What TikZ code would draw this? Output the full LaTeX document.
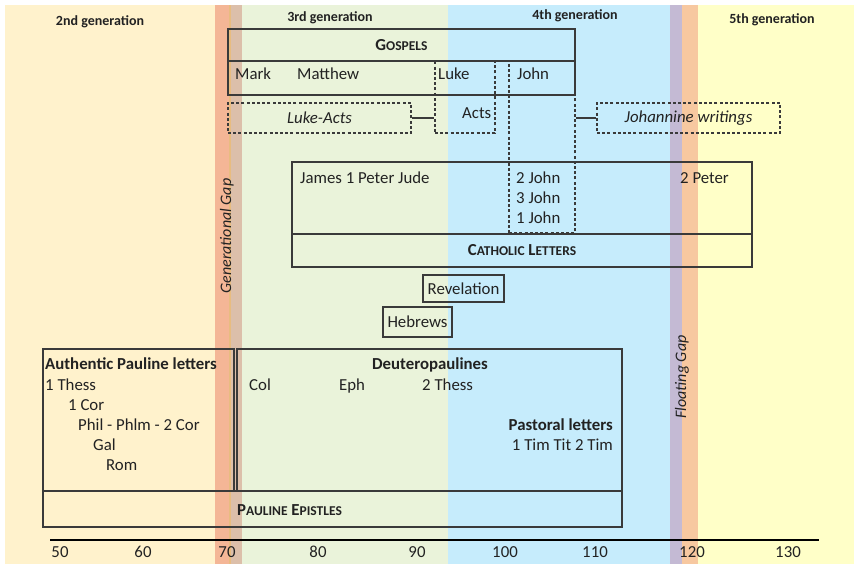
\documentclass[tikz,border=0pt]{standalone}
\usepackage{fontspec}
\setmainfont{Carlito}
\definecolor{txt}{HTML}{222222}
\definecolor{boxc}{HTML}{3A3A3A}
\definecolor{bgY}{HTML}{FFF2CC}
\definecolor{bgG}{HTML}{EAF3DA}
\definecolor{bgB}{HTML}{C6ECFC}
\definecolor{bgYb}{HTML}{FFFFC8}
\definecolor{gapA}{HTML}{F4B696}
\definecolor{gapL}{HTML}{E8BC80}
\definecolor{gapB}{HTML}{DCBFAA}
\definecolor{gapC}{HTML}{C4BAD4}
\definecolor{gapD}{HTML}{F7C8A0}
\newcommand{\fsc}[2]{#1{\fontsize{13.5}{14}\selectfont #2}}
\begin{document}
\begin{tikzpicture}[x=1pt,y=-1pt,
  every node/.style={text=txt, font=\fontsize{16.8}{19}\selectfont, inner sep=0pt},
  box/.style={draw=boxc, line width=1.1pt, inner sep=0pt},
  dbox/.style={box, dash pattern=on 3pt off 2.2pt},
  conn/.style={draw=boxc, line width=1.1pt},
  tw/.style={anchor=west, text height=11.5pt, text depth=3.3pt},
  te/.style={anchor=east, text height=11.5pt, text depth=3.3pt},
  tc/.style={text height=11.5pt, text depth=3.3pt},
  bf/.style={font=\bfseries\fontsize{16.8}{19}\selectfont},
  it/.style={font=\itshape\fontsize{16.8}{19}\selectfont},
  gen/.style={font=\bfseries\fontsize{14}{16}\selectfont, text height=10pt, text depth=2.8pt},
  ax/.style={text height=11.5pt, text depth=3.3pt}]
\useasboundingbox (0,0) rectangle (854,564);
% backgrounds
\fill[bgY] (5,5) rectangle (230,564);
\fill[bgG] (230,5) rectangle (448,564);
\fill[bgB] (448,5) rectangle (682,564);
\fill[bgYb] (682,5) rectangle (854,564);
% gaps
\fill[gapA] (215,5) rectangle (228.5,564);
\fill[gapL] (228.5,5) rectangle (230.5,564);
\fill[gapB] (230.5,5) rectangle (242,564);
\fill[gapC] (670,5) rectangle (682,564);
\fill[gapD] (682,5) rectangle (698,564);
% generation labels
\node[gen] (g2) at (100,22) {2nd generation};
\node[gen] (g3) at (330,18) {3rd generation};
\node[gen] (g4) at (575,16) {4th generation};
\node[gen] (g5) at (772,20) {5th generation};
% gospels
\node[box, bf, minimum width=347pt, minimum height=32pt] (goshead) at (401.5,45) {\fsc{G}{OSPELS}};
\node[box, minimum width=347pt, minimum height=34pt] (gosrow) at (401.5,78) {};
\node[dbox, minimum width=60pt, minimum height=72pt] (luke) at (465,97) {};
\node[dbox, minimum width=66pt, minimum height=172pt] (john) at (542,147) {};
\node[dbox, it, minimum width=183pt, minimum height=30pt] (lukeacts) at (319.5,118) {Luke-Acts};
\node[dbox, it, minimum width=183pt, minimum height=30pt] (johannine) at (688.5,118) {Johannine writings};
\draw[conn] (lukeacts.east) -- (lukeacts.east -| luke.west);
\draw[conn] (john.east |- johannine.west) -- (johannine.west);
\node[tw] (mark) at (235,75) {Mark};
\node[tw] (matthew) at (297,75) {Matthew};
\node[tw] (luket) at (438,75) {Luke};
\node[tw] (johnt) at (517,75) {John};
\node[tw] (acts) at (462,114) {Acts};
% catholic letters
\node[box, minimum width=460pt, minimum height=72pt] (cattop) at (522,198) {};
\node[box, bf, minimum width=460pt, minimum height=33pt] (catbot) at (522,250.5) {\fsc{C}{ATHOLIC} \fsc{L}{ETTERS}};
\node[tw] (jpj) at (300,179) {James 1 Peter Jude};
\node[tw] (j2) at (516,179) {2 John};
\node[tw] (j3) at (516,199.5) {3 John};
\node[tw] (j1) at (516,219) {1 John};
\node[tw] (p2) at (680,179) {2 Peter};
% revelation, hebrews
\node[box, minimum width=81pt, minimum height=27pt] (rev) at (463.5,288.5) {Revelation};
\node[box, minimum width=69pt, minimum height=30pt] (heb) at (417.5,322) {Hebrews};
% pauline
\node[box, minimum width=191pt, minimum height=142pt] (auth) at (138.5,420) {};
\node[box, minimum width=385pt, minimum height=142pt] (deut) at (429.5,420) {};
\node[box, minimum width=579pt, minimum height=36pt] (paul) at (332.5,509) {};
\node[tw, bf] (autht) at (45,365) {Authentic Pauline letters};
\node[tw] (th1) at (45,386) {1 Thess};
\node[tw] (cor1) at (68,406) {1 Cor};
\node[tw] (phil) at (78,426) {Phil - Phlm - 2 Cor};
\node[tw] (gal) at (93,446) {Gal};
\node[tw] (rom) at (106,466) {Rom};
\node[tc, bf] (deutt) at (430,365) {Deuteropaulines};
\node[tw] (col) at (249,386) {Col};
\node[tw] (eph) at (339,386) {Eph};
\node[tw] (th2) at (422,386) {2 Thess};
\node[te, bf] (past) at (613,426) {Pastoral letters};
\node[te] (tim) at (613,446) {1 Tim Tit 2 Tim};
\node[tw, bf] (pault) at (237,511) {\fsc{P}{AULINE} \fsc{E}{PISTLES}};
% gap labels
\node[rotate=90, tc, font=\itshape\fontsize{16}{18}\selectfont] (ggap) at (227,236) {Generational Gap};
\node[rotate=90, tc, font=\itshape\fontsize{16}{18}\selectfont] (fgap) at (682,377) {Floating Gap};
% axis
\coordinate (ax0) at (50,540);
\coordinate (ax1) at (819,540);
\draw[line width=1.8pt, black] (ax0) -- (ax1);
\node[ax] (y50) at (60,553) {50};
\node[ax] (y60) at (143,553) {60};
\node[ax] (y70) at (227,553) {70};
\node[ax] (y80) at (318,553) {80};
\node[ax] (y90) at (417,553) {90};
\node[ax] (y100) at (505,553) {100};
\node[ax] (y110) at (595,553) {110};
\node[ax] (y120) at (692,553) {120};
\node[ax] (y130) at (788,553) {130};
\end{tikzpicture}
\end{document}
